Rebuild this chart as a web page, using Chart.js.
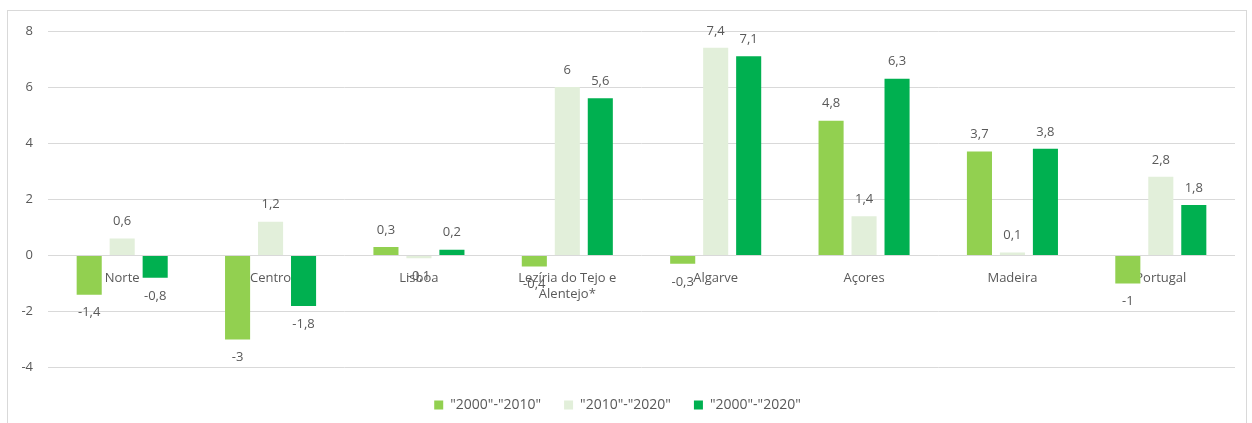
<!DOCTYPE html>
<html>
<head>
<meta charset="utf-8">
<script src="https://cdn.jsdelivr.net/npm/chart.js@4/dist/chart.umd.min.js"></script>
<style>
  html, body { margin: 0; padding: 0; background: #fff; }
  #frame { position: absolute; left: 7px; top: 10px; width: 1240px; height: 430px; border: 1px solid #d9d9d9; box-sizing: border-box; }
  #wrap { position: absolute; left: 0; top: 0; width: 1252px; height: 423px; }
</style>
</head>
<body>
<div id="frame"></div>
<div id="wrap"><canvas id="c" width="1252" height="423"></canvas></div>
<script>
// Regions
const categories = ['Norte', 'Centro', 'Lisboa', ['Lezíria do Tejo e', 'Alentejo*'], 'Algarve', 'Açores', 'Madeira', 'Portugal'];
// Change per period
const seriesNames = ['"2000"-"2010"', '"2010"-"2020"', '"2000"-"2020"'];
const values2000_2010 = [-1.4, -3, 0.3, -0.4, -0.3, 4.8, 3.7, -1];
const values2010_2020 = [0.6, 1.2, -0.1, 6, 7.4, 1.4, 0.1, 2.8];
const values2000_2020 = [-0.8, -1.8, 0.2, 5.6, 7.1, 6.3, 3.8, 1.8];
const yTicks = [-4, -2, 0, 2, 4, 6, 8];

const colors = ['#92D050', '#E2EFDA', '#00B050'];
const textColor = '#595959';
const fontFamily = "'Open Sans', 'Noto Sans', sans-serif";

const fmt = v => String(v).replace('.', ',');

// Value labels outside the end of each bar
const valueLabels = {
  id: 'valueLabels',
  afterDatasetsDraw(chart) {
    const ctx = chart.ctx;
    ctx.save();
    ctx.font = '13px ' + fontFamily;
    ctx.fillStyle = textColor;
    ctx.textAlign = 'center';
    ctx.textBaseline = 'middle';
    chart.data.datasets.forEach((ds, i) => {
      const meta = chart.getDatasetMeta(i);
      meta.data.forEach((bar, j) => {
        const v = ds.data[j];
        const y = v >= 0 ? bar.y - 17 : bar.y + 18;
        ctx.fillText(fmt(v), bar.x, y);
      });
    });
    ctx.restore();
  }
};

new Chart(document.getElementById('c'), {
  type: 'bar',
  data: {
    labels: categories,
    datasets: [
      { label: seriesNames[0], data: values2000_2010, backgroundColor: colors[0] },
      { label: seriesNames[1], data: values2010_2020, backgroundColor: colors[1] },
      { label: seriesNames[2], data: values2000_2020, backgroundColor: colors[2] }
    ]
  },
  options: {
    responsive: false,
    animation: false,
    layout: { padding: { left: 0, right: 17, top: 31, bottom: 1 } },
    datasets: { bar: { categoryPercentage: 0.667, barPercentage: 0.76 } },
    plugins: {
      tooltip: { enabled: false },
      legend: {
        position: 'bottom',
        title: { display: true, text: ' ', font: { size: 2 }, padding: { top: 0, bottom: 5 } },
        labels: {
          boxWidth: 9, boxHeight: 9, padding: 23,
          color: textColor,
          font: { family: fontFamily, size: 14 }
        }
      }
    },
    scales: {
      x: {
        position: { y: 0 },
        grid: { display: false },
        border: { display: false },
        ticks: { color: textColor, font: { family: fontFamily, size: 13 }, padding: 7, maxRotation: 0, autoSkip: false }
      },
      y: {
        min: -4, max: 8,
        afterBuildTicks: s => { s.ticks = yTicks.map(v => ({ value: v })); },
        afterFit: s => { s.width = 48; },
        grid: { color: '#d9d9d9', lineWidth: 1, drawTicks: false },
        border: { display: false },
        ticks: { color: textColor, font: { family: fontFamily, size: 13 }, padding: 15, callback: v => fmt(v) }
      }
    }
  },
  plugins: [valueLabels]
});
</script>
</body>
</html>
